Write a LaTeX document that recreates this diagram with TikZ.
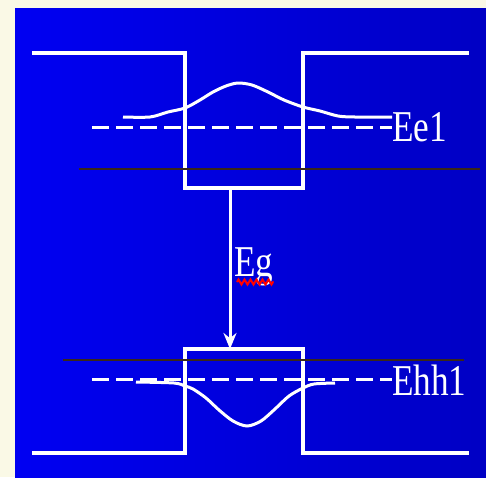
\documentclass[tikz,border=0pt]{standalone}
\usepackage{fontspec}
\setmainfont{Liberation Serif}
\usetikzlibrary{arrows.meta,decorations.pathmorphing}
\definecolor{paper}{HTML}{FAF9E6}
\definecolor{deepblue}{HTML}{0000F2}
\definecolor{darkblue}{HTML}{0000C4}
\definecolor{refline}{HTML}{3A2818}
\begin{document}
\begin{tikzpicture}[
  x=1pt, y=-1pt,
  band/.style={draw=white, line width=3.5pt},
  wave/.style={draw=white, line width=3pt},
  level/.style={draw=white, line width=3pt, dash pattern=on 17pt off 7pt},
  ref/.style={draw=refline, line width=2pt},
  lbl/.style={text=white, inner sep=0pt, font=\fontsize{44}{44}\selectfont},
  arr/.style={-{Stealth[length=16pt,width=13pt]}, draw=white, line width=3pt},
  squig/.style={draw=red, line width=2pt, decorate, decoration={zigzag, segment length=6pt, amplitude=2.5pt}},
]
\useasboundingbox (0,0) rectangle (486,477);
\fill[paper] (0,0) rectangle (486,477);
\shade[left color=deepblue, right color=darkblue] (15,8) rectangle (486,477);
% conduction band and valence band
\draw[band] (32,53) -- (185,53) -- (185,188) -- (303,188) -- (303,53) -- (469,53);
\draw[band] (32,453) -- (185,453) -- (185,349) -- (303,349) -- (303,453) -- (469,453);
\draw[ref] (79,169) -- (480,169);
\draw[ref] (63,360) -- (464,360);
% confined levels
\node[lbl, anchor=west] (ee1) at (392,127) {\scalebox{0.8}[1]{Ee1}};
\node[lbl, anchor=base west] (ehh1) at (392,395) {\scalebox{0.8}[1]{Ehh1}};
\coordinate (ee1tail) at (92,127);
\coordinate (ehh1tail) at (92,379);
\draw[level] (ee1tail) -- (ee1.west);
\draw[level] (ehh1tail) -- (ehh1tail -| ehh1.west);
% wave functions
\draw[wave] plot[smooth] coordinates {(123,117) (150,117) (168,112) (185,108) (200,100)
  (213,92) (226,86) (238,83) (252,85) (268,92) (284,100) (303,107) (320,111) (338,116)
  (355,117) (392,117)};
\draw[wave] plot[smooth] coordinates {(136,382) (174,383) (185,386) (193,389) (206,398)
  (219,410) (233,421) (247,426) (261,421) (275,409) (289,396) (303,388) (314,384) (335,383)};
% gap
\coordinate (cbot) at (230,188);
\coordinate (vtop) at (230,349);
\draw[arr] (cbot) -- (vtop);
\node[lbl, anchor=base west] (eg) at (234,276) {\scalebox{0.8}[1]{Eg}};
\draw[squig] ([xshift=3pt,yshift=-6pt]eg.base west) -- ([yshift=-6pt]eg.base east);
\end{tikzpicture}
\end{document}
